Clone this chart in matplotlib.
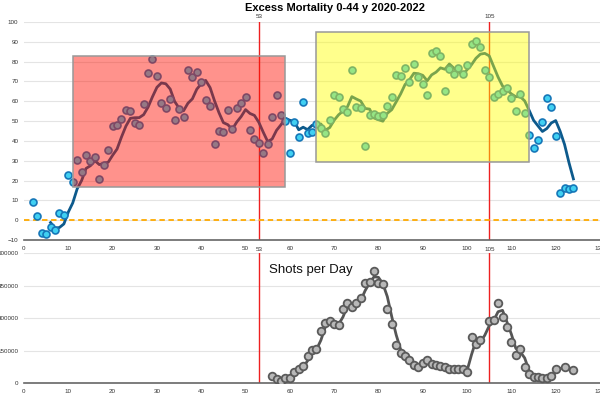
import numpy as np
import pandas as pd
import matplotlib
matplotlib.use("Agg")
import matplotlib.pyplot as plt
from matplotlib.patches import Rectangle

plt.rcParams['font.family'] = ['Liberation Sans', 'DejaVu Sans']

# excess mortality per week (weeks 2..124)
weeks = np.arange(2, 125)
excess = [9, 2, -6.5, -7, -3.5, -5, 3.5, 2.5, 23, 19.5,
          30.5, 24.5, 33, 30, 32, 20.7, 28, 35.5, 47.5, 47.8,
          51, 55.5, 55.2, 49, 48, 58.5, 74.5, 81.5, 72.7, 59,
          56.5, 61, 50.3, 56, 52, 75.8, 72, 74.7, 69.5, 60.6,
          57.7, 38.5, 45, 44.3, 55.5, 46, 56.5, 59, 62, 45.7,
          41.2, 39, 34, 38.5, 52, 63.3, 53, 50, 33.7, 49.5,
          41.8, 59.6, 43.8, 44.5, 48.3, 46.6, 43.8, 50.5, 63, 62,
          56, 54.7, 76, 57, 56.7, 37.5, 53, 53.5, 52.7, 53,
          57.6, 62, 73.2, 72.7, 76.8, 69.5, 78.6, 72, 68.5, 63,
          84.5, 85.5, 82.8, 65, 76.4, 74, 77, 74, 78.3, 89,
          90.2, 87.4, 76, 72, 62, 63.6, 65, 66.5, 61.4, 55,
          63.8, 54.2, 43, 36.2, 40.7, 49.7, 61.6, 57, 42.3, 13.8,
          16.3, 15.7, 16]

# shots per day (weeks 56..124)
shot_weeks = np.arange(56, 125)
shots = [35000, 20000, 12000, 23000, 24000, 53000, 67000, 80000, 128000, 154000,
         157000, 240000, 280000, 287500, 273700, 270000, 343000, 372000, 352000, 370000,
         395000, 461000, 466000, 517000, 461000, 457000, 343000, 272000, 175000, 138000,
         127000, 107500, 86000, 77000, 92000, 107500, 88000, 86000, 80000, 77000,
         67500, 66000, 68000, 64600, 52000, 212000, 181000, 200000, np.nan, 287500,
         292000, 369000, 304600, 261000, 192000, 130600, 160000, 73800, 43000, 30500,
         27700, 23000, 25000, 35000, 66000, np.nan, 73800, np.nan, 61500]

marks = [53, 105]
boxes = [(11, 59, 16.5, 83, (1.0, 0.06, 0.0)), (66, 114, 29.3, 95, (1.0, 1.0, 0.0))]

ex = pd.Series(excess, index=weeks)
ex_avg = ex.rolling(5).mean()
sh = pd.Series(shots, index=shot_weeks)
sh_avg = sh.interpolate().rolling(2, min_periods=1).mean()

fig = plt.figure(figsize=(6, 3.93), dpi=100)
ax1 = fig.add_axes([24/600, 153/393, 576/600, 218/393])
ax2 = fig.add_axes([24/600, 9.7/393, 576/600, 130/393])

for ax in (ax1, ax2):
    ax.set_xlim(0, 130)
    ax.set_xticks(np.arange(0, 131, 10))
    for s in ('top', 'left', 'right'):
        ax.spines[s].set_visible(False)
    ax.spines['bottom'].set_color('#666666')
    ax.spines['bottom'].set_linewidth(1.2)
    ax.tick_params(labelsize=4.5, length=0, pad=4, colors='#333333')
    ax.grid(axis='y', color='#e4e4e4', linewidth=0.8)
    ax.set_axisbelow(True)
    for m in marks:
        ax.axvline(m, color='#ee2020', linewidth=1, zorder=2)

# top chart
ax1.set_ylim(-10, 100)
ax1.set_yticks(np.arange(-10, 101, 10))
ax1.axhline(0, color='#ffaa00', linestyle=(0, (3, 2)), linewidth=1.3, zorder=2)
ax1.plot(weeks, ex_avg, color='#0d5a8c', linewidth=2, zorder=3)
ax1.plot(weeks, ex, 'o', markersize=5, markerfacecolor='#40d0f2',
         markeredgecolor='#1677b8', markeredgewidth=1.2, zorder=4)
for x0, x1, y0, y1, c in boxes:
    ax1.add_patch(Rectangle((x0, y0), x1 - x0, y1 - y0, facecolor=c, alpha=0.45,
                            edgecolor='none', zorder=5))
    ax1.add_patch(Rectangle((x0, y0), x1 - x0, y1 - y0, fill=False,
                            edgecolor='#999999', linewidth=1.1, zorder=6))
for m in marks:
    ax1.text(m, 101.5, str(m), ha='center', va='bottom', fontsize=4.5, color='#333333')
    ax1.text(m, -13.5, str(m), ha='center', va='top', fontsize=4.5, color='#333333')

# bottom chart
ax2.set_ylim(0, 600000)
ax2.set_yticks(np.arange(0, 600001, 150000))
ax2.plot(shot_weeks, sh_avg, color='#555555', linewidth=2, zorder=3)
ax2.plot(shot_weeks, sh, 'o', markersize=5.5, markerfacecolor='#b8b8b8',
         markeredgecolor='#5a5a5a', markeredgewidth=1.3, zorder=4)
ax2.text(269/600, 1 - 270/393, 'Shots per Day', transform=fig.transFigure,
         fontsize=9.5, va='center', ha='left', color='#111111')

fig.text(335/600, 1 - 8/393, 'Excess Mortality 0-44 y 2020-2022', ha='center', va='center',
         fontsize=8, fontweight='bold')

fig.savefig('out.png', dpi=100)
